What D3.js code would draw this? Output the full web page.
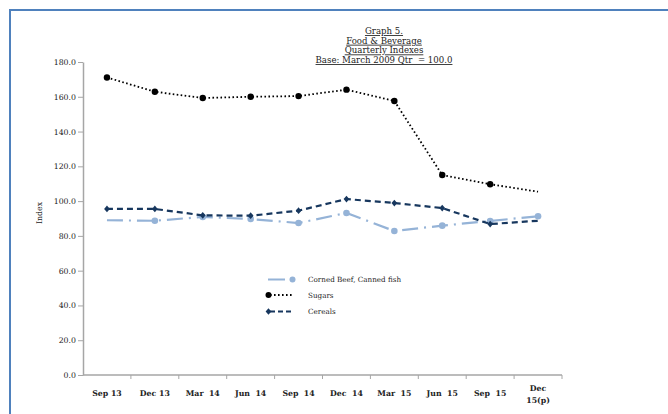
<!DOCTYPE html>
<html><head><meta charset="utf-8">
<script src="https://cdn.jsdelivr.net/npm/d3@7"></script>
<style>
html,body{margin:0;padding:0;background:#fff;}
svg{display:block;}
text{font-family:"DejaVu Serif","Liberation Serif",serif;fill:#222;}
</style></head>
<body>
<svg id="c" width="668" height="414"></svg>
<script>
const categories = ["Sep 13","Dec 13","Mar 14","Jun 14","Sep 14","Dec 14","Mar 15","Jun 15","Sep 15","Dec 15(p)"];
const cornedBeef = [89.0, 88.7, 90.9, 89.7, 87.4, 93.2, 82.8, 85.9, 88.6, 91.3];
const sugars     = [171.1, 162.9, 159.3, 160.0, 160.4, 164.1, 157.6, 115.0, 109.7, 105.4];
const cereals    = [95.5, 95.5, 91.8, 91.6, 94.5, 101.2, 98.9, 96.0, 86.8, 88.7];
const yTicks = [0,20,40,60,80,100,120,140,160,180];
const titleLines = ["Graph 5.","Food & Beverage","Quarterly Indexes","Base: March 2009 Qtr  = 100.0"];
const seriesNames = ["Corned Beef, Canned fish","Sugars","Cereals"];

(function(){
const svg = d3.select("#c");
svg.append("line").attr("x1",10).attr("y1",10).attr("x2",668).attr("y2",10).attr("stroke","#4f81bd").attr("stroke-width",2);
svg.append("line").attr("x1",10).attr("y1",9).attr("x2",10).attr("y2",414).attr("stroke","#4f81bd").attr("stroke-width",2);

const L=83, R=562, T=62, B=375;
const x = d3.scaleBand().domain(categories).range([L,R]);
const y = d3.scaleLinear().domain([0,180]).range([B,T]);
const cx = d => x(d)+x.bandwidth()/2;

const tg = svg.append("g");
titleLines.forEach((t,i)=>{
  tg.append("text").attr("x",384).attr("y",34+i*9.7).attr("text-anchor","middle")
    .attr("font-size","8.6px").attr("text-decoration","underline").style("white-space","pre").text(t);
});

const yAxis = d3.axisLeft(y).tickValues(yTicks).tickFormat(d3.format(".1f")).tickSize(5).tickSizeOuter(0);
const gy = svg.append("g").attr("transform",`translate(${L},0)`).call(yAxis);
gy.select(".domain").attr("stroke","#a6a6a6").attr("stroke-width",1.5);
gy.selectAll(".tick line").attr("stroke","#a6a6a6");
gy.selectAll(".tick text").attr("font-size","7.8px").attr("font-family","DejaVu Serif").attr("fill","#222").attr("x",-7);

svg.append("line").attr("x1",L).attr("x2",R).attr("y1",B).attr("y2",B).attr("stroke","#a6a6a6").attr("stroke-width",1.5);
svg.selectAll(".xsep").data(categories).enter().append("line")
  .attr("x1",d=>x(d)+x.bandwidth()).attr("x2",d=>x(d)+x.bandwidth())
  .attr("y1",B).attr("y2",B+4).attr("stroke","#a6a6a6");
svg.selectAll(".xlab").data(categories).enter().append("text")
  .attr("x",d=>cx(d)).attr("text-anchor","middle").attr("font-size","7.8px").attr("font-weight","600").attr("fill","#222")
  .each(function(d){
    const el=d3.select(this);
    const m=d.match(/^(\w+) (.+\(p\))$/);
    if(m){
      el.append("tspan").attr("x",cx(d)).attr("y",391).text(m[1]);
      el.append("tspan").attr("x",cx(d)).attr("y",403).text(m[2]);
    } else {
      el.attr("y",396).text(d.replace(/ (1[45])$/,"  $1")).style("white-space","pre");
    }
  });

svg.append("text").attr("transform","translate(42,213) rotate(-90)").attr("text-anchor","middle")
  .attr("font-size","7.8px").text("Index");

const line = d3.line().x((d,i)=>cx(categories[i])).y(d=>y(d));

svg.append("path").datum(cornedBeef).attr("d",line).attr("fill","none")
  .attr("stroke","#95b3d7").attr("stroke-width",2.2).attr("stroke-dasharray","16,6,2,6");
svg.selectAll(".cb").data(cornedBeef.map((v,i)=>({v,i})).filter(d=>d.i>0)).enter().append("circle")
  .attr("cx",d=>cx(categories[d.i])).attr("cy",d=>y(d.v)).attr("r",3.3).attr("fill","#95b3d7");

svg.append("path").datum(sugars).attr("d",line).attr("fill","none")
  .attr("stroke","#000").attr("stroke-width",1.8).attr("stroke-dasharray","1.6,2.4");
svg.selectAll(".sg").data(sugars.map((v,i)=>({v,i})).filter(d=>d.i<9)).enter().append("circle")
  .attr("cx",d=>cx(categories[d.i])).attr("cy",d=>y(d.v)).attr("r",3.2).attr("fill","#000");

svg.append("path").datum(cereals).attr("d",line).attr("fill","none")
  .attr("stroke","#17375e").attr("stroke-width",2.2).attr("stroke-dasharray","6,4");
const diamond = d3.symbol().type(d3.symbolDiamond).size(18);
svg.selectAll(".ce").data(cereals.map((v,i)=>({v,i})).filter(d=>d.i<9)).enter().append("path")
  .attr("d",diamond).attr("transform",d=>`translate(${cx(categories[d.i])},${y(d.v)}) scale(1.25,0.85)`).attr("fill","#17375e");

const lg = svg.append("g");
const ly = [279.5, 295, 311.5];
lg.append("line").attr("x1",268).attr("x2",285).attr("y1",ly[0]).attr("y2",ly[0]).attr("stroke","#95b3d7").attr("stroke-width",2);
lg.append("circle").attr("cx",292.5).attr("cy",ly[0]).attr("r",3).attr("fill","#95b3d7");
lg.append("line").attr("x1",270).attr("x2",292).attr("y1",ly[1]).attr("y2",ly[1]).attr("stroke","#000").attr("stroke-width",1.8).attr("stroke-dasharray","1.6,2.4");
lg.append("circle").attr("cx",268.5).attr("cy",ly[1]).attr("r",3).attr("fill","#000");
lg.append("line").attr("x1",270).attr("x2",292).attr("y1",ly[2]).attr("y2",ly[2]).attr("stroke","#17375e").attr("stroke-width",2).attr("stroke-dasharray","5,3");
lg.append("path").attr("d",diamond).attr("transform",`translate(268.5,${ly[2]}) scale(1.25,0.85)`).attr("fill","#17375e");
seriesNames.forEach((n,i)=>{
  lg.append("text").attr("x",308).attr("y",ly[i]+2.5).attr("font-size","7.2px").text(n);
});
})();
</script>
</body></html>
